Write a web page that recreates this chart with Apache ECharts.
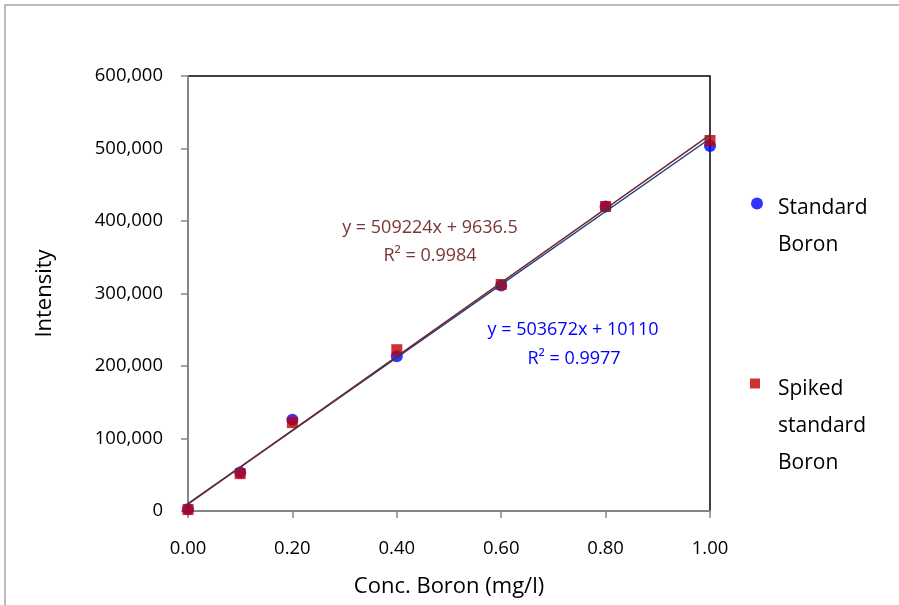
<!DOCTYPE html>
<html>
<head>
<meta charset="utf-8">
<script src="https://cdn.jsdelivr.net/npm/echarts@6/dist/echarts.min.js"></script>
<style>
html,body{margin:0;padding:0;background:#fff;}
#chart{width:899px;height:605px;}
</style>
</head>
<body>
<div id="chart"></div>
<script>
// Data
const conc = [0, 0.1, 0.2, 0.4, 0.6, 0.8, 1.0];
const standardBoron = [2500, 53000, 126000, 213500, 311000, 420000, 503500];
const spikedBoron = [2000, 51500, 122000, 222500, 312500, 420000, 511000];
const seriesNames = ['Standard Boron', 'Spiked standard Boron'];
// Trendline equations as shown
const trendStd = {slope: 503672, intercept: 10110, r2: '0.9977'};
const trendSpk = {slope: 509224, intercept: 9636.5, r2: '0.9984'};
const xTicks = [0, 0.2, 0.4, 0.6, 0.8, 1.0];
const yTicks = [0, 100000, 200000, 300000, 400000, 500000, 600000];

const FONT = '"Open Sans", "DejaVu Sans", sans-serif';
const pairs = (xs, ys) => xs.map((x, i) => [x, ys[i]]);
const trendLine = t => [[0, t.intercept], [1, t.slope + t.intercept]];
const fmtThousands = v => Math.round(v).toString().replace(/\B(?=(\d{3})+(?!\d))/g, ',');
// one word per line, preceded by a spacer line so the first word sits beside the icon
const legendWrap = n => '{s| }\n' + n.split(' ').map(w => '{t|' + w + '}').join('\n');
const legendRich = spacer => ({
  s: {fontSize: 10, lineHeight: spacer},
  t: {fontSize: 21, lineHeight: 37, color: '#000', fontFamily: FONT}
});

const chart = echarts.init(document.getElementById('chart'));
chart.setOption({
  animation: false,
  backgroundColor: '#ffffff',
  textStyle: {fontFamily: FONT},
  grid: {left: 188, right: 189, top: 76, bottom: 94, show: true, borderColor: '#000000', borderWidth: 1.5, containLabel: false},
  xAxis: {
    type: 'value', min: xTicks[0], max: xTicks[xTicks.length - 1], interval: 0.2,
    name: 'Conc. Boron (mg/l)', nameLocation: 'middle', nameGap: 65,
    nameTextStyle: {fontSize: 22, color: '#000', fontFamily: FONT},
    axisLine: {show: true, lineStyle: {color: '#868686', width: 2}},
    axisTick: {show: true, inside: false, length: 7, lineStyle: {color: '#868686', width: 1.5}},
    axisLabel: {fontSize: 18.5, color: '#000', margin: 28, fontFamily: FONT, formatter: v => v.toFixed(2)},
    splitLine: {show: false}
  },
  yAxis: {
    type: 'value', min: yTicks[0], max: yTicks[yTicks.length - 1], interval: 100000,
    name: 'Intensity', nameLocation: 'middle', nameGap: 132,
    nameTextStyle: {fontSize: 22, color: '#000', fontFamily: FONT},
    axisLine: {show: true, lineStyle: {color: '#868686', width: 2}},
    axisTick: {show: true, inside: false, length: 7, lineStyle: {color: '#868686', width: 1.5}},
    axisLabel: {fontSize: 18.5, color: '#000', margin: 25, fontFamily: FONT, formatter: fmtThousands},
    splitLine: {show: false}
  },
  legend: [
    {
      data: [seriesNames[0]],
      orient: 'vertical', left: 751, top: 161.5, padding: 0,
      itemWidth: 12, itemHeight: 12,
      formatter: legendWrap,
      textStyle: {fontSize: 21, color: '#000', fontFamily: FONT, padding: [0, 0, 0, 10], rich: legendRich(47)}
    },
    {
      data: [seriesNames[1]],
      orient: 'vertical', left: 750, top: 323, padding: 0,
      itemWidth: 10, itemHeight: 10,
      formatter: legendWrap,
      textStyle: {fontSize: 21, color: '#000', fontFamily: FONT, padding: [0, 0, 0, 13], rich: legendRich(86)}
    }
  ],
  series: [
    {
      name: seriesNames[0], type: 'scatter', symbol: 'circle', symbolSize: 12,
      itemStyle: {color: '#0000ff'}, data: pairs(conc, standardBoron), z: 2
    },
    {
      name: seriesNames[1], type: 'scatter', symbol: 'rect', symbolSize: 11,
      itemStyle: {color: '#c00000'}, data: pairs(conc, spikedBoron), z: 3
    },
    {
      name: 'Linear (Standard Boron)', type: 'line', symbol: 'none', silent: true,
      lineStyle: {color: '#1f3b80', width: 1.5}, data: trendLine(trendStd), z: 4
    },
    {
      name: 'Linear (Spiked standard Boron)', type: 'line', symbol: 'none', silent: true,
      lineStyle: {color: '#6e2a2a', width: 1.5}, data: trendLine(trendSpk), z: 5
    }
  ],
  graphic: [
    {type: 'rect', silent: true, shape: {x: 5, y: 5, width: 1000, height: 1000},
     style: {fill: 'none', stroke: '#a6a6a6', lineWidth: 1.5}, z: -10},
    {type: 'text', x: 430, y: 228, style: {text: 'y = ' + trendSpk.slope + 'x + ' + trendSpk.intercept, fill: '#7a3636', font: '18px ' + FONT, align: 'center', verticalAlign: 'middle'}},
    {type: 'text', x: 430, y: 256, style: {text: 'R² = ' + trendSpk.r2, fill: '#7a3636', font: '18px ' + FONT, align: 'center', verticalAlign: 'middle'}},
    {type: 'text', x: 573, y: 330, style: {text: 'y = ' + trendStd.slope + 'x + ' + trendStd.intercept, fill: '#0000ff', font: '18px ' + FONT, align: 'center', verticalAlign: 'middle'}},
    {type: 'text', x: 574, y: 359, style: {text: 'R² = ' + trendStd.r2, fill: '#0000ff', font: '18px ' + FONT, align: 'center', verticalAlign: 'middle'}}
  ]
});
</script>
</body>
</html>
